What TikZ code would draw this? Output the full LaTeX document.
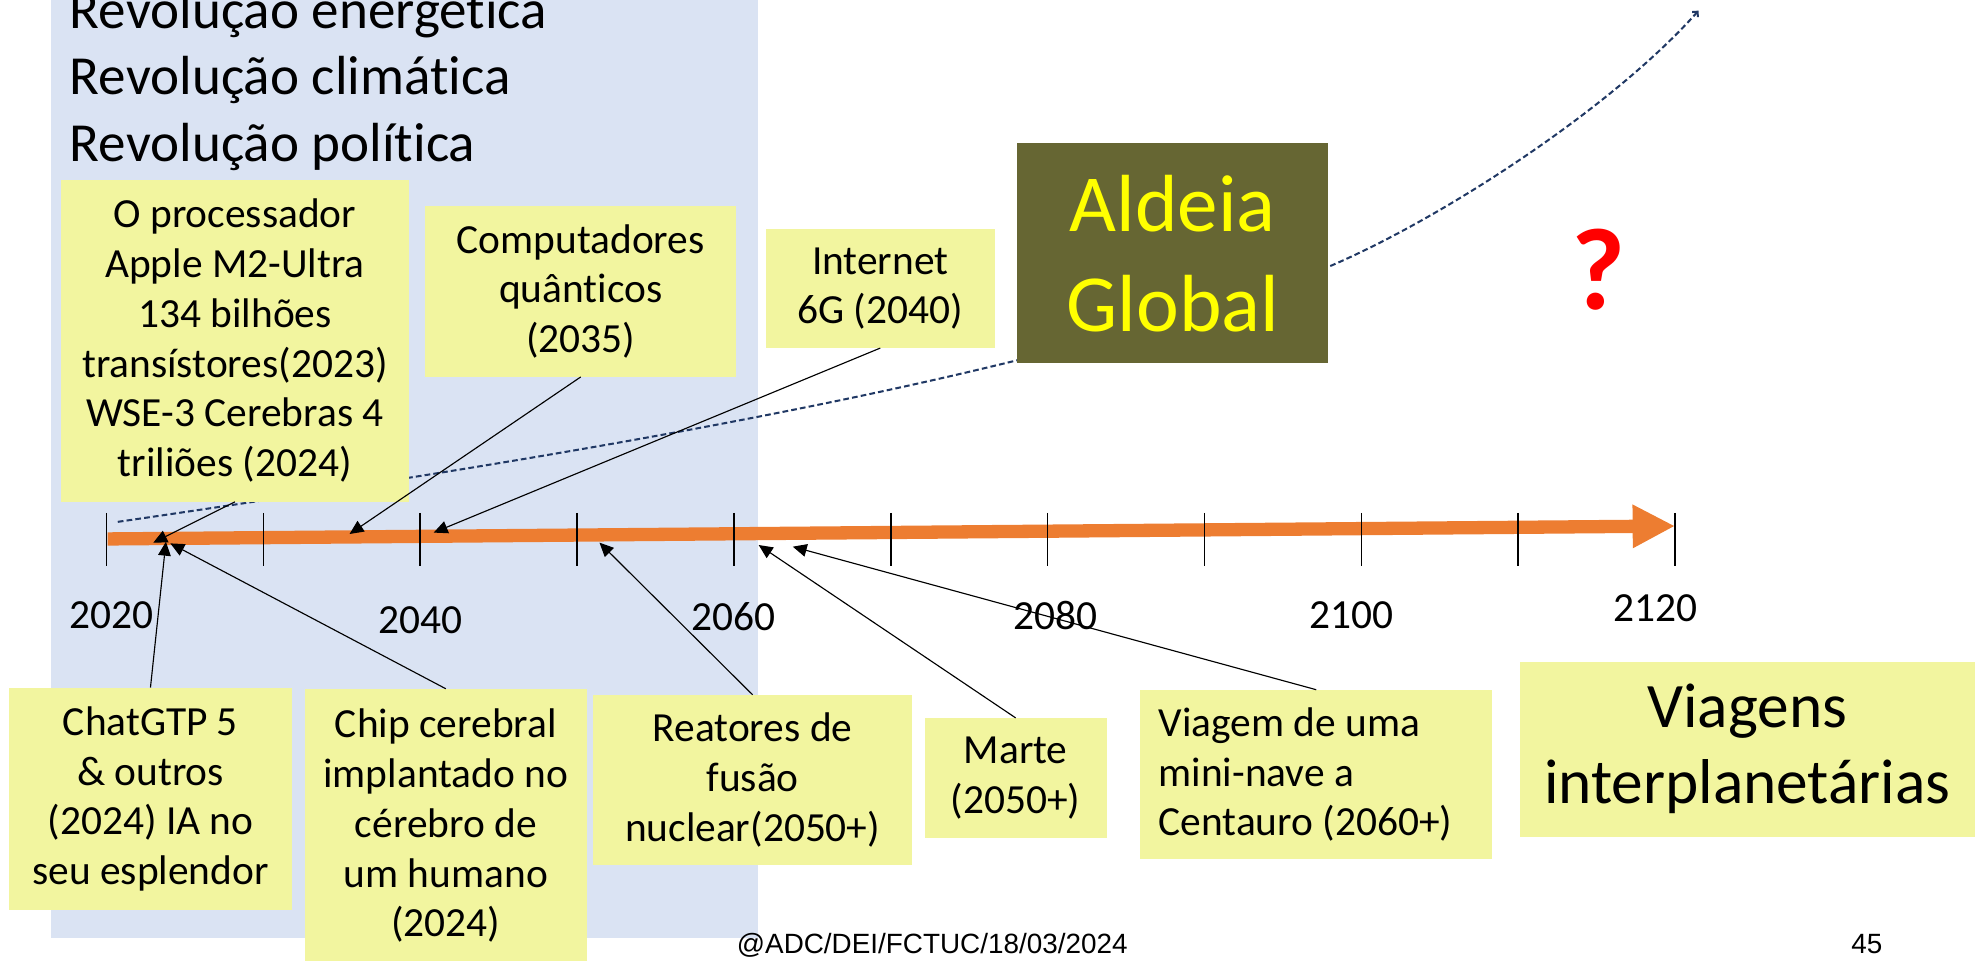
\documentclass[tikz,border=0pt]{standalone}
\usepackage{fontspec}
\setmainfont{Carlito}[Ligatures=NoCommon]
\newfontfamily\arialf{Liberation Sans}
\usetikzlibrary{arrows.meta}
\definecolor{panelblue}{HTML}{DAE3F3}
\definecolor{boxyellow}{HTML}{F2F59F}
\definecolor{tlorange}{HTML}{ED7D31}
\definecolor{olivebox}{HTML}{666633}
\definecolor{curvenavy}{HTML}{203864}
\definecolor{qred}{HTML}{FF0000}
\definecolor{aldeiatext}{HTML}{FFFF00}
\begin{document}
\begin{tikzpicture}[x=1pt,y=-1pt,
  ybox/.style={fill=boxyellow, inner sep=0pt, align=center, font=\fontsize{32.7}{39.3}\selectfont},
  boxtext/.style={inner sep=0pt, align=left, font=\fontsize{32.7}{39.3}\selectfont},
  yearlbl/.style={inner sep=0pt, font=\fontsize{32.7}{39.3}\selectfont},
  revtext/.style={inner sep=0pt, anchor=base west, font=\fontsize{43.5}{52.6}\selectfont},
  conn/.style={draw=black, line width=0.9pt, -{Triangle[length=11pt,width=10pt]}},
  yeartick/.style={draw=black, line width=1.2pt},
  trend/.style={draw=curvenavy, line width=1.6pt, dash pattern=on 4.5pt off 2.5pt, -{Straight Barb[length=3pt,width=6pt]}},
  footer/.style={inner sep=0pt, anchor=base, font=\arialf\fontsize{22}{26}\selectfont}]
\useasboundingbox (0,0) rectangle (1568,758);
% background panel
\fill[panelblue] (40.3,0) rectangle (598.1,740.6);
% revolution texts
\node[revtext] (rev1) at (55,22.4) {Revolução energética};
\node[revtext] (rev2) at (55,75) {Revolução climática};
\node[revtext] (rev3) at (55,127.6) {Revolução política};
% dashed growth curve
\coordinate (cstart) at (93,412);
\coordinate (cmid) at (1048,211);
\coordinate (cend) at (1341,8.4);
\draw[trend] (cstart) .. controls (520,350) and (820,295) .. (cmid)
  .. controls (1138,173) and (1273,85) .. (cend);
% timeline
\coordinate (tlstart) at (85,425.5);
\coordinate (tlend) at (1322.5,415.3);
\draw[tlorange, line width=10.5pt, -{Triangle[length=33.5pt,width=32pt]}] (tlstart) -- (tlend);
\foreach \i in {0,...,10} \draw[yeartick] ({84.1+123.84*\i},405) -- ++(0,42);
% year labels
\node[yearlbl] (y2020) at (88,485.6) {2020};
\node[yearlbl] (y2040) at (332,489.6) {2040};
\node[yearlbl] (y2060) at (579,487) {2060};
\node[yearlbl] (y2080) at (833.5,485.6) {2080};
\node[yearlbl] (y2100) at (1067,485.6) {2100};
\node[yearlbl] (y2120) at (1307,480) {2120};
% boxes
\node[ybox, minimum width=275pt, minimum height=254pt] (proc) at (185.5,269)
  {O processador\\Apple M2-Ultra\\134 bilhões\\transístores(2023)\\WSE-3 Cerebras 4\\triliões (2024)};
\node[ybox, minimum width=245.7pt, minimum height=134.8pt] (comp) at (458.5,230)
  {Computadores\\quânticos\\(2035)};
\node[ybox, minimum width=181pt, minimum height=93.6pt] (inet) at (695,227.8)
  {Internet\\6G (2040)};
\node[fill=olivebox, inner sep=0pt, align=center, text=aldeiatext,
  font=\fontsize{64}{79}\selectfont, minimum width=245.5pt, minimum height=173.7pt] (aldeia) at (926,200)
  {Aldeia\\Global};
\node[inner sep=0pt, text=qred, font=\fontsize{92}{100}\selectfont\bfseries] (qmark) at (1262,213) {?};
\node[ybox, minimum width=223.6pt, minimum height=175.6pt] (chat) at (118.8,630.8)
  {ChatGTP 5\\\& outros\\(2024) IA no\\seu esplendor};
\node[ybox, minimum width=222.5pt, minimum height=216pt] (chip) at (352,652)
  {Chip cerebral\\implantado no\\cérebro de\\um humano\\(2024)};
\node[ybox, minimum width=251.7pt, minimum height=134.3pt] (reat) at (594.2,615.9)
  {Reatores de\\fusão\\nuclear(2050+)};
\node[ybox, minimum width=143.7pt, minimum height=94.6pt] (marte) at (801.9,614.3)
  {Marte\\(2050+)};
\node[ybox, minimum width=277.6pt, minimum height=133.7pt] (viagem) at (1039.2,611.6) {};
\node[boxtext, anchor=west] (viagemtxt) at (914.5,611.6)
  {Viagem de uma\\mini-nave a\\Centauro (2060+)};
\node[ybox, font=\fontsize{50}{60}\selectfont, minimum width=359pt, minimum height=138.2pt] (viagens) at (1379.5,591.5)
  {Viagens\\interplanetárias};
% connector end points on the timeline
\coordinate (a1) at (121,428.5);
\coordinate (a2) at (276,421.6);
\coordinate (a3) at (342.4,420.5);
\coordinate (a4) at (131,427.7);
\coordinate (a5) at (134.5,429);
\coordinate (a6) at (473.3,428.4);
\coordinate (a7) at (599,430.3);
\coordinate (a8) at (625.9,431.6);
\draw[conn] (proc.south) -- (a1);
\draw[conn] (comp.south) -- (a2);
\draw[conn] (inet.south) -- (a3);
\draw[conn] (chat.north) -- (a4);
\draw[conn] (chip.north) -- (a5);
\draw[conn] (reat.north) -- (a6);
\draw[conn] (marte.north) -- (a7);
\draw[conn] (viagem.north) -- (a8);
% footer
\node[footer] (foot) at (736,752.5) {@ADC/DEI/FCTUC/18/03/2024};
\node[footer] (pnum) at (1474,752.5) {45};
\end{tikzpicture}
\end{document}
